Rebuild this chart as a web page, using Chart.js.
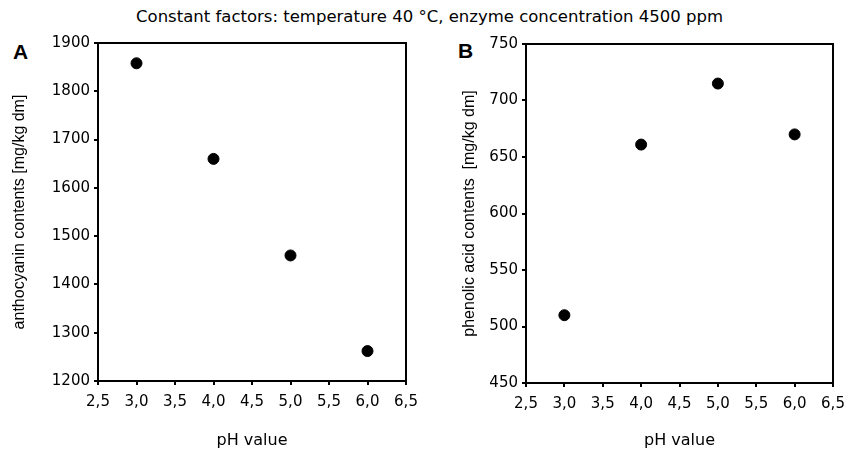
<!DOCTYPE html>
<html>
<head>
<meta charset="utf-8">
<script src="https://cdn.jsdelivr.net/npm/chart.js@4.4.1/dist/chart.umd.min.js"></script>
<style>
  body { margin: 0; background: #fff; }
  #wrap { position: relative; width: 859px; height: 450px; overflow: hidden; font-family: "DejaVu Sans", sans-serif; }
  #title { position: absolute; left: 0; top: 7px; width: 859px; text-align: center; font-size: 16.5px; line-height: 20px; color: #000; }
  .panel { position: absolute; font-family: "Liberation Sans", Arial, sans-serif; font-weight: bold; font-size: 21px; line-height: 20px; color: #000; }
  canvas { position: absolute; top: 0; }
</style>
</head>
<body>
<div id="wrap">
  <div id="title">Constant factors: temperature 40 °C, enzyme concentration 4500 ppm</div>
  <div class="panel" style="left:13px; top:42px;">A</div>
  <div class="panel" style="left:458px; top:41px;">B</div>
  <canvas id="chartA" width="430" height="450" style="left:0"></canvas>
  <canvas id="chartB" width="429" height="450" style="left:430px"></canvas>
</div>
<script>
// pH values tested
const phValues = [3.0, 4.0, 5.0, 6.0];
// Panel A: anthocyanin contents [mg/kg dm]
const anthocyanin = [1858, 1660, 1460, 1262];
// Panel B: phenolic acid contents [mg/kg dm]
const phenolicAcid = [510, 661, 715, 670];

const xTitle = 'pH value';
const yTitleA = 'anthocyanin contents [mg/kg dm]';
const yTitleB = 'phenolic acid contents  [mg/kg dm]';

// horizontal text is wide in the original, vertical text is not
const WIDE_FONT = '"DejaVu Sans", sans-serif';
const NARROW_FONT = '"Liberation Sans", Arial, sans-serif';

// draws the top and right sides of the box
const framePlugin = {
  id: 'frame',
  afterDraw(chart) {
    const { ctx, chartArea } = chart;
    ctx.save();
    ctx.strokeStyle = '#000';
    ctx.lineWidth = 2;
    ctx.strokeRect(chartArea.left, chartArea.top, chartArea.right - chartArea.left, chartArea.bottom - chartArea.top);
    ctx.restore();
  },
};

function makeChart(canvasId, yValues, cfg) {
  const points = phValues.map((x, i) => ({ x: x, y: yValues[i] }));
  /* global Chart */
  return new Chart(document.getElementById(canvasId), {
    type: 'scatter',
    data: {
      datasets: [{
        data: points,
        backgroundColor: '#000',
        borderColor: '#000',
        pointRadius: 5.5,
        pointHoverRadius: 5.5,
      }],
    },
    options: {
      responsive: false,
      animation: false,
      events: [],
      layout: { padding: { left: 0, top: cfg.top, right: cfg.right, bottom: 0 } },
      plugins: { legend: { display: false }, tooltip: { enabled: false } },
      scales: {
        x: {
          type: 'linear',
          min: 2.5,
          max: 6.5,
          afterFit: (scale) => { scale.height = cfg.xHeight; },
          ticks: {
            stepSize: 0.5,
            color: '#000',
            padding: 8,
            maxRotation: 0,
            font: { family: WIDE_FONT, size: 15 },
            callback: (v) => v.toFixed(1).replace('.', ','),
          },
          grid: { drawOnChartArea: false, color: '#000', lineWidth: 2, tickLength: 4 },
          border: { color: '#000', width: 2 },
          title: {
            display: true,
            text: xTitle,
            color: '#000',
            font: { family: WIDE_FONT, size: 16 },
            padding: { top: 0, bottom: 0 },
          },
        },
        y: {
          min: cfg.yMin,
          max: cfg.yMax,
          afterFit: (scale) => { scale.width = cfg.yWidth; },
          ticks: {
            stepSize: cfg.yStep,
            color: '#000',
            padding: 4,
            font: { family: WIDE_FONT, size: 15 },
            callback: (v) => String(v),
          },
          grid: { drawOnChartArea: false, color: '#000', lineWidth: 2, tickLength: 4 },
          border: { color: '#000', width: 2 },
          title: {
            display: true,
            text: cfg.yTitle,
            color: '#000',
            font: { family: NARROW_FONT, size: 16 },
            padding: { top: cfg.yTitlePad, bottom: 0 },
          },
        },
      },
    },
    plugins: [framePlugin],
  });
}

makeChart('chartA', anthocyanin, {
  yMin: 1200, yMax: 1900, yStep: 100, yTitle: yTitleA,
  top: 43, right: 24, yWidth: 98, xHeight: 69, yTitlePad: 10,
});

makeChart('chartB', phenolicAcid, {
  yMin: 450, yMax: 750, yStep: 50, yTitle: yTitleB,
  top: 44, right: 26, yWidth: 96, xHeight: 67, yTitlePad: 30,
});
</script>
</body>
</html>
